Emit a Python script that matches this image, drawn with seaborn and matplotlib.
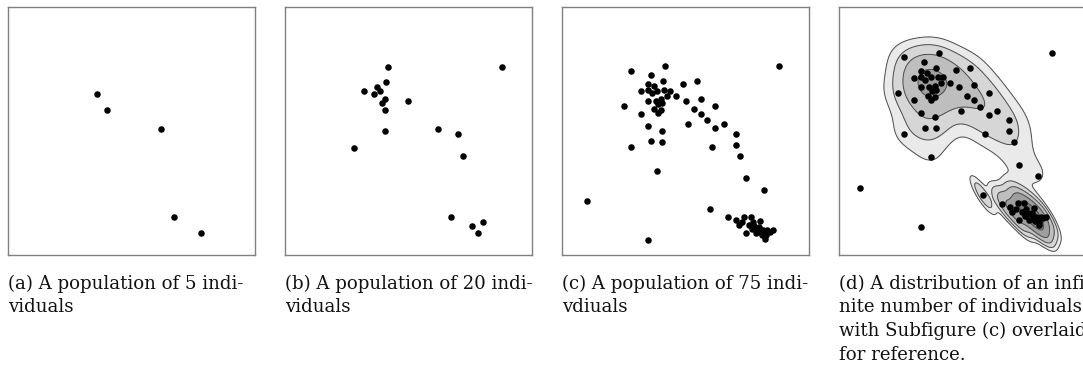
import numpy as np
import pandas as pd
import matplotlib
matplotlib.use("Agg")
import matplotlib.pyplot as plt
import seaborn as sns
from seaborn.external.kde import gaussian_kde

# Panel (a): five individuals
pop5_x = [3.59, 4.02, 6.21, 6.71, 7.81]
pop5_y = [6.49, 5.85, 5.08, 1.52, 0.88]

# Panel (b): twenty individuals
pop20_x = [4.17, 8.80, 4.08, 3.72, 3.19, 3.85, 3.60, 4.05, 3.94, 4.99,
           4.04, 4.04, 6.21, 7.02, 2.78, 7.22, 6.72, 8.03, 7.57, 7.83]
pop20_y = [7.59, 7.59, 6.99, 6.79, 6.61, 6.61, 6.49, 6.29, 6.14, 6.21,
           5.85, 4.99, 5.08, 4.88, 4.33, 3.99, 1.52, 1.34, 1.18, 0.88]

# Panel (c)/(d): seventy-five individuals
pop75_x = [2.78, 4.18, 3.60, 4.90, 5.45, 4.08, 3.47, 3.72, 3.19, 3.49,
           3.63, 3.86, 4.14, 4.38, 4.63, 4.26, 5.02, 5.63, 3.47, 3.79,
           4.02, 3.90, 4.06, 2.52, 3.74, 4.02, 3.87, 3.19, 5.33, 5.63,
           5.86, 5.10, 3.47, 4.04, 3.62, 4.06, 2.78,
           6.21, 6.55, 6.21, 7.03, 6.06, 7.03, 7.22, 3.86, 7.44, 8.19,
           1.01, 5.98, 8.77, 3.47,
           6.73, 7.06, 7.38, 7.64, 7.17, 7.30, 7.57, 7.73, 8.03, 7.91,
           7.44, 7.84, 8.13, 8.31, 8.54, 8.09, 8.26, 8.23, 7.70, 8.02,
           8.42, 8.19, 7.96, 7.77]
pop75_y = [7.43, 7.62, 7.26, 6.90, 7.00, 7.00, 6.88, 6.81, 6.61, 6.65,
           6.52, 6.63, 6.65, 6.63, 6.41, 6.41, 6.22, 6.30, 6.22, 6.22,
           6.29, 6.09, 6.12, 6.01, 5.88, 5.85, 5.71, 5.69, 5.89, 5.69,
           5.43, 5.28, 5.19, 5.01, 4.60, 4.57, 4.34,
           6.00, 5.28, 5.11, 4.89, 4.34, 4.45, 4.00, 3.40, 3.10, 2.63,
           2.17, 1.87, 7.62, 0.60,
           1.53, 1.41, 1.54, 1.54, 1.20, 1.33, 1.20, 1.32, 1.36, 1.10,
           0.89, 0.89, 1.01, 1.01, 1.01, 0.82, 0.79, 0.66, 1.04, 0.92,
           0.94, 0.90, 1.14, 1.17]

captions = [
    ["(a) A population of 5 indi-", "viduals"],
    ["(b) A population of 20 indi-", "viduals"],
    ["(c) A population of 75 indi-", "vdiuals"],
    ["(d) A distribution of an infi-", "nite number of individuals",
     "with Subfigure (c) overlaid", "for reference."],
]

sns.set_style("white")
plt.rcParams["font.family"] = ["DejaVu Serif"]

W, H = 1083, 367
fig = plt.figure(figsize=(W / 100, H / 100), dpi=100)

panel_left = [8, 285, 562, 839]
panel_w, panel_h = 247, 248
panel_top = 7


def make_axes(left):
    return fig.add_axes([left / W, 1 - (panel_top + panel_h) / H,
                         panel_w / W, panel_h / H])


def finish(ax):
    ax.set_xticks([])
    ax.set_yticks([])
    ax.set_xlabel("")
    ax.set_ylabel("")
    for sp in ax.spines.values():
        sp.set_color("#808080")
        sp.set_linewidth(1.0)


dot = dict(color="black", s=22, linewidth=0, legend=False)

frames = [
    pd.DataFrame({"x": pop5_x, "y": pop5_y}),
    pd.DataFrame({"x": pop20_x, "y": pop20_y}),
    pd.DataFrame({"x": pop75_x, "y": pop75_y}),
]

axes = [make_axes(l) for l in panel_left]

for ax, df in zip(axes[:3], frames):
    sns.scatterplot(data=df, x="x", y="y", ax=ax, zorder=3, **dot)
    ax.set_xlim(0, 10)
    ax.set_ylim(0, 10)
    finish(ax)

# Panel (d): smoothed density of the population, one kernel estimate per
# mode (the curved main body and the tight lower-right cluster)
axd = axes[3]
df75 = frames[2]
tight = (df75["y"] < 2.0) & (df75["x"] > 5.5)
parts = [(df75[~tight], 0.42), (df75[tight], 0.9)]

gx = np.linspace(-1.0, 11.5, 420)
gy = np.linspace(-2.0, 11.0, 420)
GX, GY = np.meshgrid(gx, gy)
grid = np.vstack([GX.ravel(), GY.ravel()])

comps = []
for part, bw in parts:
    kde = gaussian_kde(part[["x", "y"]].to_numpy().T, bw_method=bw)
    comps.append(len(part) / len(df75) * kde(grid).reshape(GX.shape))
Z = comps[0] + comps[1]

# log-spaced contour levels: four within the main body, the rest in the
# denser cluster
peak = comps[0].max()
base, ratio = 0.08 * peak, (0.8 / 0.08) ** (1 / 3)
n_lv = int(np.floor(np.log(Z.max() / base) / np.log(ratio))) + 1
levels = base * ratio ** np.arange(n_lv)
fill_levels = np.append(levels, Z.max() * 1.01)
shades = plt.get_cmap("Greys")(np.minimum(0.16 + 0.105 * np.arange(n_lv), 0.97))
axd.contourf(GX, GY, Z, levels=fill_levels, colors=shades, zorder=1)
axd.contour(GX, GY, Z, levels=levels, colors="#4d4d4d", linewidths=0.7,
            zorder=2)
sns.scatterplot(data=df75, x="x", y="y", ax=axd, zorder=3, **dot)
axd.set_xlim(0.15, 10.15)
axd.set_ylim(-0.54, 9.46)
finish(axd)

# Captions under each panel
for left, lines in zip(panel_left, captions):
    for i, line in enumerate(lines):
        fig.text(left / W, 1 - (289 + i * 23.5) / H, line,
                 ha="left", va="baseline", fontsize=13.1, color="#111111")

fig.savefig("out.png", dpi=100)
